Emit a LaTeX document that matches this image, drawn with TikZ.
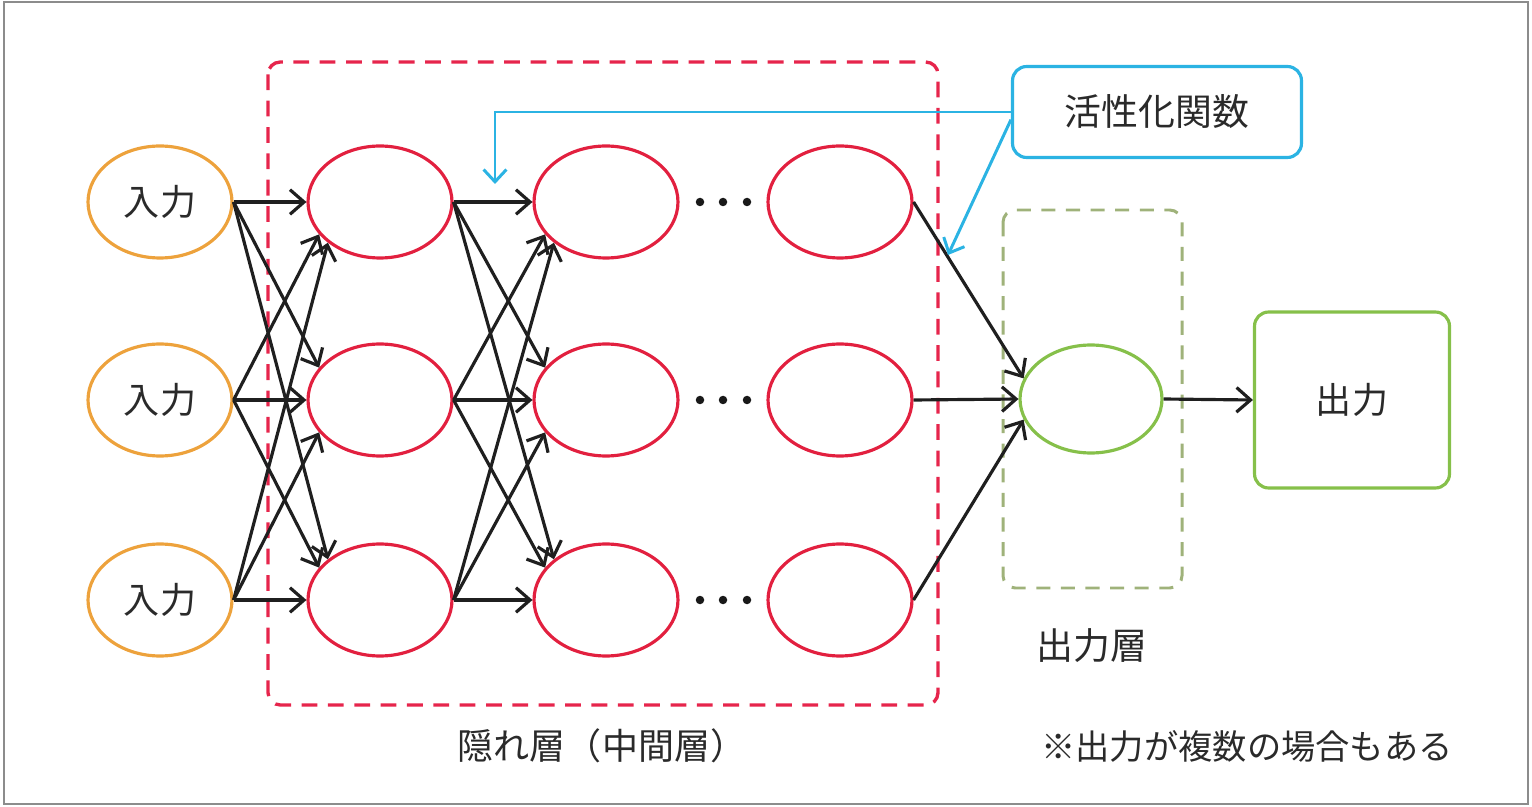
\documentclass[tikz,border=0pt]{standalone}
\usepackage{fontspec}
\setmainfont{Noto Sans CJK JP}
\usetikzlibrary{shapes.geometric,arrows.meta,calc}
\definecolor{inorange}{HTML}{EDA23C}
\definecolor{hidred}{HTML}{E2203F}
\definecolor{dashred}{HTML}{E6254C}
\definecolor{cyanl}{HTML}{2BB3E3}
\definecolor{outgreen}{HTML}{86C04A}
\definecolor{dashgreen}{HTML}{9FB27A}
\definecolor{framegray}{HTML}{8C8C8C}
\definecolor{txt}{HTML}{2A2A2A}
\begin{document}
\begin{tikzpicture}[x=0.02cm,y=-0.02cm,
  neuron/.style={ellipse,draw,line width=1.8pt,minimum width=2.88cm,minimum height=2.24cm,inner sep=0pt},
  inneuron/.style={neuron,draw=inorange,text=txt,font=\fontsize{20.5pt}{24pt}\selectfont},
  hidneuron/.style={neuron,draw=hidred},
  conn/.style={line width=1.8pt,draw=black!88,-{Straight Barb[length=8pt,width=14pt]}},
  callout/.style={line width=1.7pt,draw=cyanl,-{Straight Barb[length=7pt,width=13pt]}},
  lbl/.style={text=txt,font=\fontsize{20.5pt}{24pt}\selectfont,inner sep=0pt},
  dotmark/.style={fill=black!90}
]
\useasboundingbox (0,0) rectangle (1532,807);
\draw[framegray,line width=1.4pt] (4,2) rectangle (1528,804);

% layer boxes
\draw[dashred,line width=1.9pt,dash pattern=on 9pt off 6pt,rounded corners=7pt] (268,62) rectangle (938,705);
\draw[dashgreen,line width=1.7pt,dash pattern=on 8pt off 6pt,rounded corners=7pt] (1003,210) rectangle (1182,588);

% input nodes
\node[inneuron] (in1) at (160,202) {入力};
\node[inneuron] (in2) at (160,400) {入力};
\node[inneuron] (in3) at (160,600) {入力};

% hidden nodes
\foreach \c/\x in {1/380,2/606,3/840}{
  \node[hidneuron] (h\c1) at (\x,202) {};
  \node[hidneuron] (h\c2) at (\x,400) {};
  \node[hidneuron] (h\c3) at (\x,600) {};
}

% dots
\foreach \y in {202,400,600}{
  \foreach \x in {700,723,747}{
    \fill[dotmark] (\x,\y) circle (0.085cm);
  }
}

% output
\node[neuron,draw=outgreen,minimum width=2.84cm,minimum height=2.16cm] (out) at (1091,399) {};
\node[draw=outgreen,line width=1.8pt,rounded corners=8pt,minimum width=3.9cm,minimum height=3.52cm,lbl] (res) at (1352,400) {出力};

% activation label
\node[draw=cyanl,line width=1.8pt,rounded corners=8pt,minimum width=5.78cm,minimum height=1.82cm,lbl,font=\fontsize{21pt}{25pt}\selectfont] (act) at (1157,112) {活性化関数};

% connections input -> hidden1, hidden1 -> hidden2
\foreach \i/\j/\a in {1/1/180,1/2/152,1/3/142,2/1/208,2/2/180,2/3/152,3/1/218,3/2/208,3/3/180}{
  \draw[conn] (in\i.east) -- (h1\j.\a);
  \draw[conn] (h1\i.east) -- (h2\j.\a);
}
% hidden3 -> output
\draw[conn] (h31.east) -- (out.163);
\draw[conn] (h32.east) -- (out.180);
\draw[conn] (h33.east) -- (out.197);
\draw[conn] (out.east) -- (res.west);

% callout arrows
\coordinate (c1) at (495,184);
\coordinate (c2) at (948,255);
\draw[callout] (act.west) -| (c1);
\draw[callout] (act.183) -- (c2);

% labels
\node[lbl,font=\fontsize{21pt}{25pt}\selectfont] (lout) at (1092,646) {出力層};
\node[lbl] (lhid) at (602,746) {隠れ層（中間層）};
\node[lbl,font=\fontsize{19.5pt}{23pt}\selectfont] (lnote) at (1247,746) {※出力が複数の場合もある};
\end{tikzpicture}
\end{document}
